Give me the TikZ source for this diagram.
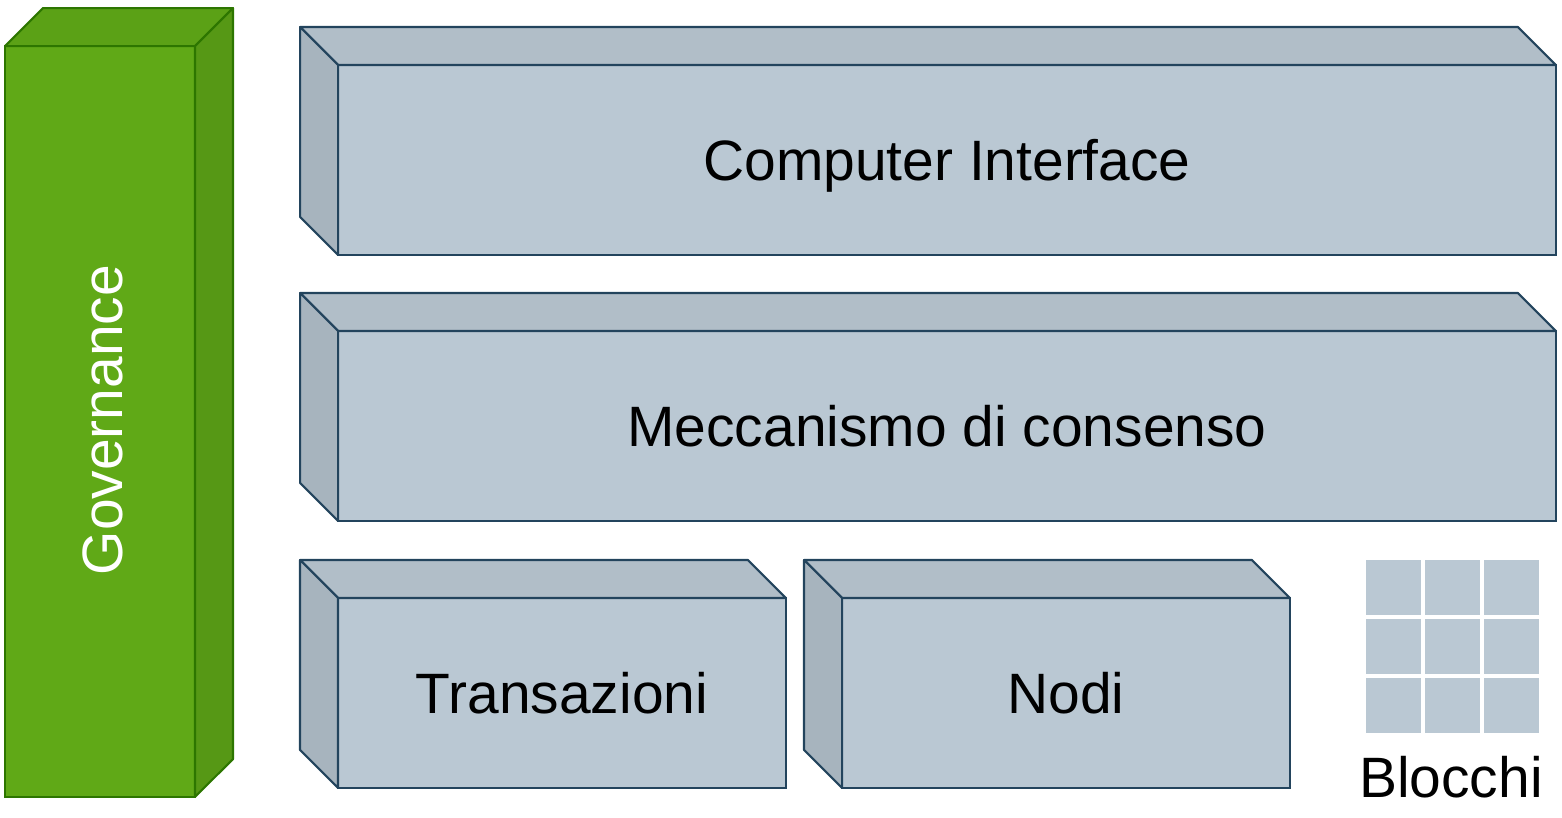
\documentclass[tikz,border=0pt]{standalone}
\usepackage{fontspec}
\setmainfont{Liberation Sans}
\usepackage{tikz}
\usetikzlibrary{calc}
\definecolor{slate}{HTML}{BAC8D3}
\definecolor{slateline}{HTML}{23445D}
\definecolor{leaf}{HTML}{60A917}
\definecolor{leafline}{HTML}{2D7600}

\begin{document}
\begin{tikzpicture}[x=0.02cm,y=-0.02cm,
		font=\fontsize{32.4}{39}\selectfont,
		capbox/.style={text height=23.3pt,text depth=0pt},
		face/.style={draw=slateline,fill=slate,line width=1.2pt,inner sep=0pt,outer sep=0pt,capbox},
		topface/.style={draw=slateline,fill=slate!95!black,line width=1.2pt,line join=round},
		sideface/.style={draw=slateline,fill=slate!90!black,line width=1.2pt,line join=round},
		greenface/.style={draw=leafline,fill=leaf,line width=1.2pt,inner sep=0pt,outer sep=0pt},
		greentop/.style={draw=leafline,fill=leaf!95!black,line width=1.2pt,line join=round},
		greenside/.style={draw=leafline,fill=leaf!90!black,line width=1.2pt,line join=round}]
	\useasboundingbox (0,0) rectangle (1562,818);
	
	% Governance column
	\node[greenface,minimum width=3.8cm,minimum height=15.02cm] (gov) at (100,421.5) {};
	\filldraw[greentop] (gov.north west) -- ++(38,-38) -- ++(190,0) -- (gov.north east) -- cycle;
	\filldraw[greenside] (gov.north east) -- ++(38,-38) -- ++(0,751) -- (gov.south east) -- cycle;
	\node[rotate=90,text=white,capbox] (govtext) at (102,420) {Governance};
	
	% Layers
	\node[face,minimum width=24.36cm,minimum height=3.8cm] (ci) at (947,160) {Computer Interface};
	\node[face,minimum width=24.36cm,minimum height=3.8cm] (mc) at (947,426) {Meccanismo di consenso};
	\node[face,minimum width=8.96cm,minimum height=3.8cm] (tr) at (562,693) {Transazioni};
	\node[face,minimum width=8.96cm,minimum height=3.8cm] (nd) at (1066,693) {Nodi};
	
	% Depth faces
	\foreach \b in {ci,mc,tr,nd} {
		\filldraw[topface] (\b.north west) -- ++(-38,-38) -- ([shift={(-38,-38)}]\b.north east) -- (\b.north east) -- cycle;
		\filldraw[sideface] (\b.north west) -- ++(-38,-38) -- ([shift={(-38,-38)}]\b.south west) -- (\b.south west) -- cycle;
	}
	
	% Blocks grid
	\foreach \i in {0,1,2}
		\foreach \j in {0,1,2}
			\fill[slate] (1366+59*\i,560+59*\j) rectangle ++(55,55);
	\node[capbox] (blocchi) at (1451,777) {Blocchi};
\end{tikzpicture}
\end{document}
